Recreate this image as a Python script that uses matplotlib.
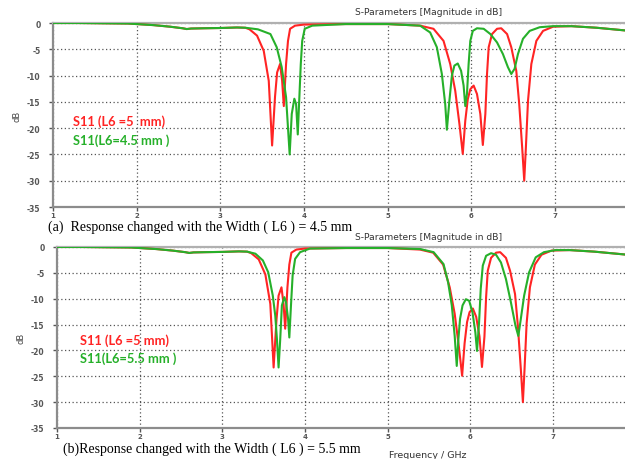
import numpy as np
import matplotlib
matplotlib.use("Agg")
import matplotlib.pyplot as plt

# shared low-frequency part (GHz, dB)
base_f = [1.0, 1.3, 1.6, 1.9, 2.0, 2.2, 2.4, 2.55, 2.6, 2.65, 2.8, 3.0, 3.2, 3.3]
base_db = [0.0, 0.0, -0.05, -0.1, -0.2, -0.4, -0.7, -1.0, -1.15, -1.05, -1.0, -0.95, -0.85, -0.9]

# S11, L6 = 5 mm (same curve in both panels)
red_f = [3.35, 3.44, 3.52, 3.58, 3.62, 3.655, 3.68, 3.715, 3.74, 3.76, 3.787, 3.81, 3.835,
         3.895, 4.0, 4.5, 5.0, 5.39, 5.55, 5.67, 5.75, 5.81, 5.86, 5.90, 5.93, 5.96, 5.99,
         6.03, 6.07, 6.11, 6.14, 6.17, 6.19, 6.21, 6.25, 6.31, 6.36, 6.43, 6.48, 6.54, 6.575,
         6.61, 6.635, 6.655, 6.68, 6.72, 6.78, 6.86, 6.98, 7.2, 7.5, 7.9]
red_db = [-1.2, -2.4, -5.3, -11.0, -23.3, -14.0, -9.4, -7.8, -11.0, -15.8, -7.8, -3.4, -1.1,
          -0.5, -0.3, -0.2, -0.2, -0.5, -1.1, -3.4, -7.8, -12.9, -19.2, -24.9, -18.6, -14.5, -12.6,
          -11.9, -13.5, -17.3, -23.2, -17.3, -9.7, -4.6, -2.1, -1.1, -1.0, -2.1, -4.6, -9.1, -15.4,
          -23.6, -30.0, -23.6, -14.8, -7.8, -3.4, -1.5, -0.7, -0.6, -0.9, -1.5]

# S11, L6 = 4.5 mm
g45_f = [3.45, 3.6, 3.675, 3.735, 3.787, 3.83, 3.855, 3.886, 3.907, 3.927, 3.946, 3.963, 3.98,
         4.01, 4.10, 4.5, 5.0, 5.39, 5.51, 5.59, 5.65, 5.69, 5.71, 5.74, 5.77, 5.80, 5.84, 5.88,
         5.91, 5.93, 5.95, 5.97, 5.99, 6.02, 6.07, 6.15, 6.23, 6.31, 6.38, 6.44, 6.48, 6.52, 6.56,
         6.62, 6.70, 6.82, 6.98, 7.2, 7.5, 7.9]
g45_db = [-1.2, -2.1, -4.6, -8.4, -14.1, -25.0, -17.3, -14.4, -15.4, -21.2, -14.1, -7.8, -3.4,
          -1.1, -0.5, -0.2, -0.2, -0.5, -1.8, -4.6, -9.7, -15.4, -20.3, -14.8, -10.0, -8.1, -7.7, -9.1,
          -11.9, -15.8, -13.5, -7.8, -3.4, -1.5, -1.0, -1.1, -2.1, -3.7, -5.9, -8.4, -9.7, -8.7, -5.9,
          -3.0, -1.5, -0.8, -0.6, -0.6, -0.9, -1.5]

# S11, L6 = 5.5 mm
g55_f = [3.4, 3.49, 3.555, 3.61, 3.64, 3.66, 3.68, 3.70, 3.72, 3.75, 3.77, 3.795, 3.81, 3.83,
         3.85, 3.88, 3.94, 4.06, 4.5, 5.0, 5.395, 5.555, 5.675, 5.73, 5.775, 5.81, 5.835, 5.855,
         5.875, 5.905, 5.945, 5.985, 6.025, 6.06, 6.08, 6.105, 6.125, 6.15, 6.19, 6.25, 6.31, 6.37,
         6.43, 6.49, 6.545, 6.58, 6.61, 6.65, 6.71, 6.79, 6.89, 7.03, 7.2, 7.5, 7.9]
g55_db = [-1.3, -2.6, -4.9, -9.4, -13.3, -17.8, -23.3, -17.8, -11.3, -9.7, -10.7, -13.9, -17.5, -11.3,
          -5.5, -2.3, -1.0, -0.3, -0.2, -0.2, -0.4, -1.0, -3.3, -6.8, -11.3, -17.2, -23.0, -17.8,
          -13.9, -11.3, -10.1, -10.4, -12.6, -16.5, -20.1, -14.6, -8.1, -3.6, -1.7, -1.2, -1.5, -3.0,
          -6.2, -10.7, -15.2, -17.2, -13.9, -9.4, -4.9, -2.0, -1.0, -0.6, -0.6, -0.9, -1.5]

x_ticks = [1, 2, 3, 4, 5, 6, 7]
y_ticks = [0, -5, -10, -15, -20, -25, -30, -35]

RED = '#ff2424'
GREEN = '#26b02a'

fig = plt.figure(figsize=(6.25, 4.6), dpi=100)


def panel(rect, xmax, green_f, green_db):
    ax = fig.add_axes(rect)
    ax.plot(base_f + red_f, base_db + red_db, color=RED, lw=1.5, zorder=3)
    ax.plot(base_f + green_f, base_db + green_db, color=GREEN, lw=1.5, zorder=4)
    ax.set_xlim(1, xmax)
    ax.set_ylim(-35, 0)
    ax.set_xticks(x_ticks)
    ax.set_yticks(y_ticks)
    ax.set_yticklabels([str(v) for v in y_ticks])
    ax.grid(True, color='#555555', linestyle=(0, (1, 2)), linewidth=0.9)
    for s in ['left', 'bottom']:
        ax.spines[s].set_color('#8c8c8c')
        ax.spines[s].set_linewidth(1.6)
    ax.spines['top'].set_color('#b0b0b0')
    ax.spines['top'].set_linewidth(1.6)
    ax.spines['right'].set_visible(False)
    ax.tick_params(axis='both', colors='#555555', labelsize=5.5, length=3, width=1)
    ax.tick_params(axis='x', pad=0.5, labelsize=5)
    ax.tick_params(axis='y', pad=6)
    for lab in ax.get_xticklabels() + ax.get_yticklabels():
        lab.set_fontweight('bold')
    ax.set_ylabel('dB', fontsize=6, color='#444444', labelpad=4)
    return ax


ax1 = panel([0.0848, 0.5478, 0.9152, 0.4], 7.84, g45_f, g45_db)
ax2 = panel([0.0912, 0.0674, 0.9088, 0.3935], 7.87, g55_f, g55_db)

# panel titles and axis label
fig.text(0.685, 0.972, 'S-Parameters [Magnitude in dB]', ha='center', va='center',
         fontsize=6.6, color='#333333')
fig.text(0.685, 0.483, 'S-Parameters [Magnitude in dB]', ha='center', va='center',
         fontsize=6.6, color='#333333')
fig.text(0.685, 0.010, 'Frequency / GHz', ha='center', va='center', fontsize=6.8,
         color='#333333')

# captions
fig.text(0.077, 0.505, '(a)  Response changed with the Width ( L6 ) = 4.5 mm',
         ha='left', va='center', fontsize=10, family='Liberation Serif')
fig.text(0.101, 0.024, '(b)Response changed with the Width ( L6 ) = 5.5 mm',
         ha='left', va='center', fontsize=10, family='Liberation Serif')

# in-plot legend texts
fig.text(0.117, 0.735, 'S11 (L6 =5  mm)', color=RED, fontsize=9.3, fontweight='bold',
         family='Lato', va='center')
fig.text(0.117, 0.694, 'S11(L6=4.5 mm )', color=GREEN, fontsize=9.3, fontweight='bold',
         family='Lato', va='center')
fig.text(0.128, 0.259, 'S11 (L6 =5 mm)', color=RED, fontsize=9.3, fontweight='bold',
         family='Lato', va='center')
fig.text(0.128, 0.220, 'S11(L6=5.5 mm )', color=GREEN, fontsize=9.3, fontweight='bold',
         family='Lato', va='center')

fig.savefig('out.png', dpi=100)
